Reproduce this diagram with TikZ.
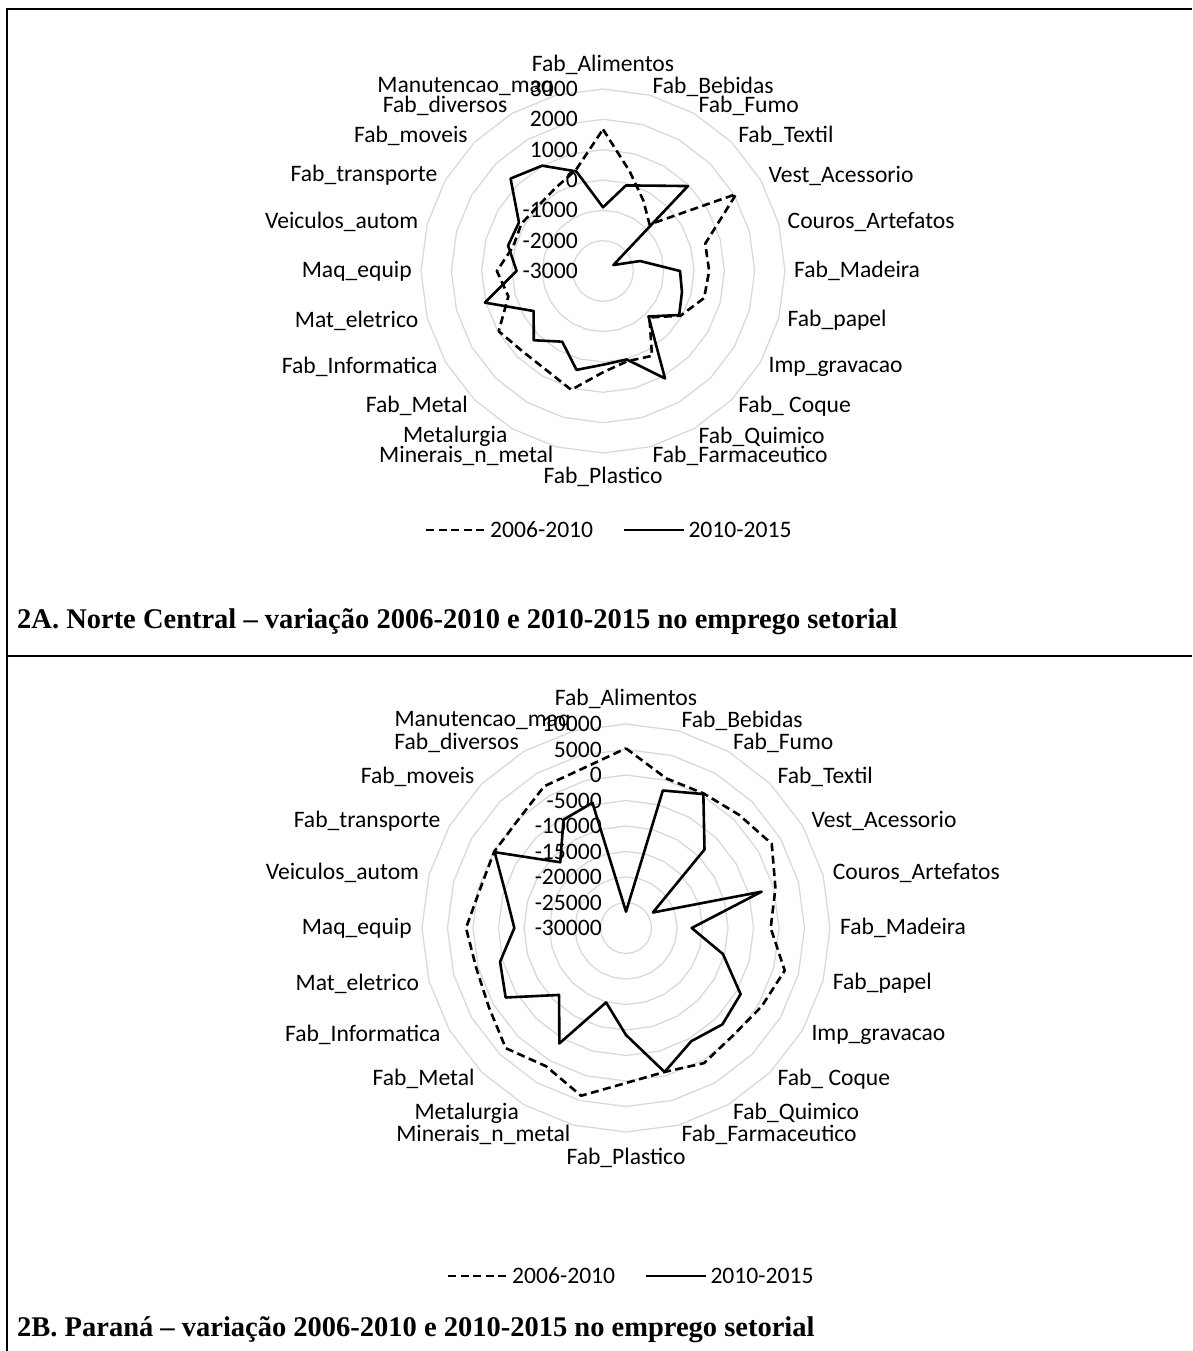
\documentclass[tikz,border=0pt]{standalone}
\usepackage{fontspec}
\setmainfont{Carlito}
\newfontfamily\capfont{Liberation Serif}
\usetikzlibrary{positioning}

\def\Setores{Fab\_Alimentos,Fab\_Bebidas,Fab\_Fumo,Fab\_Textil,Vest\_Acessorio,
  Couros\_Artefatos,Fab\_Madeira,Fab\_papel,Imp\_gravacao,Fab\_ Coque,Fab\_Quimico,
  Fab\_Farmaceutico,Fab\_Plastico,Minerais\_n\_metal,Metalurgia,Fab\_Metal,
  Fab\_Informatica,Mat\_eletrico,Maq\_equip,Veiculos\_autom,Fab\_transporte,
  Fab\_moveis,Fab\_diversos,Manutencao\_maq}

\tikzset{
    ring/.style={draw=black!15, line width=1.3pt},
    old/.style={draw=black, line width=2.6pt, dash pattern=on 8pt off 4.5pt, line join=round},
    new/.style={draw=black, line width=2.6pt, line join=round},
    sector/.style={inner sep=0pt, font=\fontsize{23.6}{28}\selectfont},
    tick/.style={inner sep=0pt, anchor=east, font=\fontsize{23.6}{28}\selectfont},
    legtext/.style={inner sep=0pt, font=\fontsize{23.6}{28}\selectfont},
    frame/.style={line width=2.2pt},
    caption/.style={inner sep=0pt, anchor=west, font=\capfont\bfseries\fontsize{28.5}{34}\selectfont},
}

\begin{document}
\begin{tikzpicture}[x=1pt, y=-1pt]
    \useasboundingbox (0,0) rectangle (1192,1351);

    % table frame
    \draw[frame] (6,9) -- (1192,9);
    \draw[frame] (7,8) -- (7,1351);
    \draw[frame] (6,656) -- (1192,656);

    % 2A: Norte Central (values in thousands)
    \begin{scope}[shift={(603,271)}]
      \foreach \k in {1,...,6} {
        \pgfmathsetmacro\rr{\k*30.33}
        \draw[ring] (0,-\rr) \foreach \a in {15,30,...,345} { -- ({\rr*sin(\a)},{-\rr*cos(\a)}) } -- cycle;
      }
      \foreach \name [count=\i from 0] in \Setores {
        \ifnum\i=0 \def\anc{south}\def\rad{196}\else
        \ifnum\i=12 \def\anc{north}\def\rad{196}\else
        \ifnum\i<12 \def\anc{west}\def\rad{191}\else
        \def\anc{east}\def\rad{191}\fi\fi\fi
        \node[sector, anchor=\anc] (A-\i) at ({\rad*sin(15*\i)},{-\rad*cos(15*\i)}) {\name};
      }
      \foreach \t [count=\k from 0] in {-3000,-2000,-1000,0,1000,2000,3000}
        \node[tick] (A-t\k) at (-25,{-\k*30.33}) {\t};

      \foreach \v [count=\i from 0] in {1.67,0.40,-0.33,-0.83,2.07,0.49,0.50,0.45,-0.05,-0.835,0.23,0.08,
          0.34,1.055,0.76,0.75,0.97,0.23,0.50,0.07,0.11,0.03,0.15,0.45} {
        \pgfmathsetmacro\r{(\v+3)*30.33}
        \coordinate (A-old-\i) at ({\r*sin(15*\i)},{-\r*cos(15*\i)});
      }
      \foreach \v [count=\i from 0] in {-0.90,-0.08,0.25,0.96,-2.605,-1.73,-0.46,-0.305,-0.10,-0.88,1.09,0.02,
          0.09,0.375,-0.31,0.23,-0.36,1.03,-0.15,0.24,0.20,1.31,1.01,0.40} {
        \pgfmathsetmacro\r{(\v+3)*30.33}
        \coordinate (A-new-\i) at ({\r*sin(15*\i)},{-\r*cos(15*\i)});
      }

      \draw[old] (A-old-0) \foreach \i in {1,...,23} { -- (A-old-\i) } -- cycle;
      \draw[new] (A-new-0) \foreach \i in {1,...,23} { -- (A-new-\i) } -- cycle;
    \end{scope}

    % legend 2A
    \coordinate (A-leg-a) at (426,530);
    \coordinate (A-leg-b) at (486,530);
    \draw[old] (A-leg-a) -- (A-leg-b);
    \node[legtext, right=4pt of A-leg-b] (A-leg-old) {2006-2010};
    \coordinate[right=31pt of A-leg-old] (A-leg-c);
    \coordinate[right=60pt of A-leg-c] (A-leg-d);
    \draw[new] (A-leg-c) -- (A-leg-d);
    \node[legtext, right=4pt of A-leg-d] (A-leg-new) {2010-2015};

    \node[caption] (A-cap) at (17,622) {2A. Norte Central – variação 2006-2010 e 2010-2015 no emprego setorial};

    % 2B: Parana (values in thousands)
    \begin{scope}[shift={(626,928)}]
      \foreach \k in {1,...,8} {
        \pgfmathsetmacro\rr{\k*25.5}
        \draw[ring] (0,-\rr) \foreach \a in {15,30,...,345} { -- ({\rr*sin(\a)},{-\rr*cos(\a)}) } -- cycle;
      }
      \foreach \name [count=\i from 0] in \Setores {
        \ifnum\i=0 \def\anc{south}\def\rad{219.5}\else
        \ifnum\i=12 \def\anc{north}\def\rad{219.5}\else
        \ifnum\i<12 \def\anc{west}\def\rad{214}\else
        \def\anc{east}\def\rad{214}\fi\fi\fi
        \node[sector, anchor=\anc] (B-\i) at ({\rad*sin(15*\i)},{-\rad*cos(15*\i)}) {\name};
      }
      \foreach \t [count=\k from 0] in {-30000,-25000,-20000,-15000,-10000,-5000,0,5000,10000}
        \node[tick] (B-t\k) at (-24,{-\k*25.5}) {\t};

      \foreach \v [count=\i from 0] in {5.23,0.39,0.46,1.37,3.0,0.33,-1.63,2.22,0.72,-0.26,0.59,-0.78,
          0.39,4.05,1.31,3.33,1.05,0.39,1.37,-0.39,-0.13,-0.06,2.09,2.42} {
        \pgfmathsetmacro\r{(\v/5+6)*25.5}
        \coordinate (B-old-\i) at ({\r*sin(15*\i)},{-\r*cos(15*\i)});
      }
      \foreach \v [count=\i from 0] in {-26.8,-2.09,0.33,-8.235,-23.92,-2.48,-17.12,-10.33,-4.05,-3.27,-4.38,-0.78,
          -9.02,-14.9,-3.86,-11.44,-2.75,-4.44,-8.1,-5.7,-0.26,-11.77,-5.49,-4.57} {
        \pgfmathsetmacro\r{(\v/5+6)*25.5}
        \coordinate (B-new-\i) at ({\r*sin(15*\i)},{-\r*cos(15*\i)});
      }

      \draw[old] (B-old-0) \foreach \i in {1,...,23} { -- (B-old-\i) } -- cycle;
      \draw[new] (B-new-0) \foreach \i in {1,...,23} { -- (B-new-\i) } -- cycle;
    \end{scope}

    % legend 2B
    \coordinate (B-leg-a) at (448,1276);
    \coordinate (B-leg-b) at (508,1276);
    \draw[old] (B-leg-a) -- (B-leg-b);
    \node[legtext, right=4pt of B-leg-b] (B-leg-old) {2006-2010};
    \coordinate[right=31pt of B-leg-old] (B-leg-c);
    \coordinate[right=60pt of B-leg-c] (B-leg-d);
    \draw[new] (B-leg-c) -- (B-leg-d);
    \node[legtext, right=4pt of B-leg-d] (B-leg-new) {2010-2015};

    \node[caption] (B-cap) at (17,1330) {2B. Paraná – variação 2006-2010 e 2010-2015 no emprego setorial};
\end{tikzpicture}
\end{document}
